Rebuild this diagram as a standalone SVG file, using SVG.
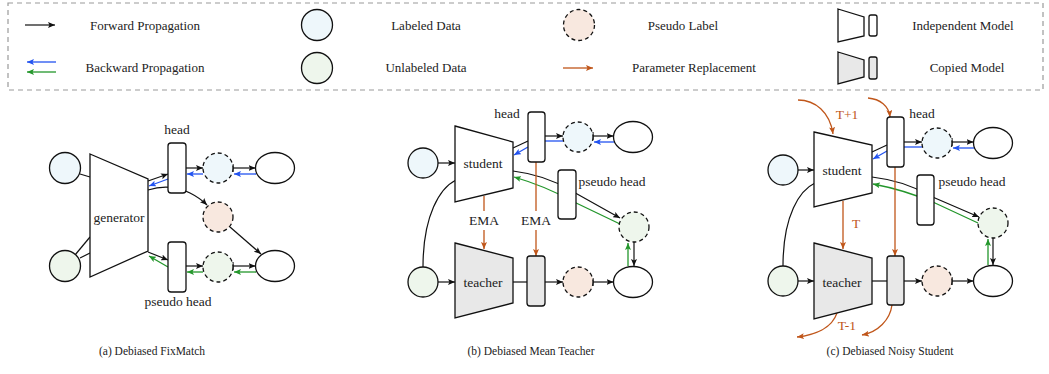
<svg xmlns="http://www.w3.org/2000/svg" width="1049" height="374" viewBox="0 0 1049 374">
<defs>
<marker id="aK" viewBox="0 0 7 6" refX="7" refY="3" markerWidth="7" markerHeight="6" markerUnits="userSpaceOnUse" orient="auto"><path d="M0,0 L7,3 L0,6 L1.5,3 z" fill="#111"/></marker>
<marker id="aB" viewBox="0 0 7 6" refX="7" refY="3" markerWidth="7" markerHeight="6" markerUnits="userSpaceOnUse" orient="auto"><path d="M0,0 L7,3 L0,6 L1.5,3 z" fill="#2253f0"/></marker>
<marker id="aG" viewBox="0 0 7 6" refX="7" refY="3" markerWidth="7" markerHeight="6" markerUnits="userSpaceOnUse" orient="auto"><path d="M0,0 L7,3 L0,6 L1.5,3 z" fill="#23962b"/></marker>
<marker id="aO" viewBox="0 0 7 6" refX="7" refY="3" markerWidth="7" markerHeight="6" markerUnits="userSpaceOnUse" orient="auto"><path d="M0,0 L7,3 L0,6 L1.5,3 z" fill="#c0561a"/></marker>
<marker id="tk" viewBox="0 0 2 8" refX="1" refY="4" markerWidth="2" markerHeight="8" markerUnits="userSpaceOnUse" orient="auto"><path d="M1,0 V8" stroke="#111" stroke-width="1.2"/></marker>
</defs>
<style>
text{font-family:"Liberation Serif","Times New Roman",serif;fill:#222;}
.lg{font-size:13px;text-anchor:middle;}
.lb{font-size:13.5px;text-anchor:middle;}
.cap{font-size:11.5px;text-anchor:middle;}
.ot{fill:#c0561a;}
.sh{stroke:#111;stroke-width:1.3;fill:#fff;}
.cp{fill:#e8e8e8;}
.lab{fill:#eef7fb;stroke:#111;stroke-width:1.3;}
.unl{fill:#eef6ec;stroke:#111;stroke-width:1.3;}
.dl{stroke-dasharray:4,3;}
.ps{fill:#f8e8df;stroke:#111;stroke-width:1.3;stroke-dasharray:4,3;}
.k{stroke:#111;stroke-width:1.2;fill:none;}
.b{stroke:#2253f0;stroke-width:1.3;fill:none;}
.g{stroke:#23962b;stroke-width:1.3;fill:none;}
.o{stroke:#c0561a;stroke-width:1.3;fill:none;}
.ka{marker-end:url(#aK);}
.ba{marker-end:url(#aB);}
.ga{marker-end:url(#aG);}
.oa{marker-end:url(#aO);}
.ts{marker-start:url(#tk);}
</style>

<g id="legend">
<rect x="8" y="3" width="1035" height="87" fill="none" stroke="#9a9a9a" stroke-width="1.2" stroke-dasharray="5,4"/>
<path class="k ka" d="M25,25 L55,25"/>
<text class="lg" x="145" y="30">Forward Propagation</text>
<path class="b ba" d="M56,62 L27,62"/>
<path class="g ga" d="M56,72 L27,72"/>
<text class="lg" x="145" y="72">Backward Propagation</text>
<circle class="lab" cx="317" cy="25" r="15.5"/>
<text class="lg" x="426" y="30">Labeled Data</text>
<circle class="unl" cx="317" cy="68" r="15.5"/>
<text class="lg" x="426" y="72">Unlabeled Data</text>
<circle class="ps" cx="579" cy="25" r="15.5"/>
<text class="lg" x="683" y="30">Pseudo Label</text>
<path class="o oa" d="M563,68 L593,68"/>
<text class="lg" x="694" y="72">Parameter Replacement</text>
<polygon class="sh" points="838,9 864,17 864,36 838,42"/>
<rect class="sh" x="869" y="15" width="8" height="21" rx="2"/>
<text class="lg" x="963" y="30">Independent Model</text>
<polygon class="sh cp" points="838,52 864,60 864,77 838,84"/>
<rect class="sh cp" x="869" y="57" width="8" height="22" rx="2"/>
<text class="lg" x="967" y="72">Copied Model</text>
</g>

<g id="connectors">
<!-- panel a -->
<path class="k" d="M80,174 L90,177"/>
<path class="k" d="M75,255 L90,237"/>
<path class="k" d="M80,258 L90,253"/>
<path class="k ka" d="M148,181 L168,174"/>
<path class="b ba" d="M168,179 L149,186"/>
<path class="k ka" d="M148,190 Q170,183 190,193 Q200,198 207,205"/>
<path class="k ka" d="M148,252 L168,260"/>
<path class="g ga" d="M168,267 L149,256"/>
<path class="k ka" d="M186,168 L203,168"/>
<path class="b ba" d="M203,174 L187,174"/>
<path class="k ka ts" d="M233,168 L255.5,168"/>
<path class="b ba" d="M256,174 L234,174"/>
<path class="k ka" d="M230,227 L261,254"/>
<path class="k ka" d="M186,266 L203,266"/>
<path class="g ga" d="M203,272 L187,272"/>
<path class="k ka ts" d="M233,266 L255.5,266"/>
<path class="g ga" d="M256,272 L234,272"/>
<!-- panel b -->
<path class="k ka" d="M438,163 L455,163"/>
<path class="k" d="M513,148 L528,141"/>
<path class="b ba" d="M528,147 L514,155"/>
<path class="k ka" d="M545,136 L563,136"/>
<path class="b" d="M563,141 L545,141"/>
<path class="k ka ts" d="M593,136 L613.5,136"/>
<path class="b ba" d="M614,142 L594,142"/>
<path class="k ka" d="M513,171 Q545,175 570,190 L620,218"/>
<path class="g ga" d="M620,224 L572,201 Q545,186 514,177"/>
<path class="k ka" d="M634,242 L634,266"/>
<path class="g ga" d="M628,266 L628,243"/>
<path class="k ka" d="M438,282 L455,282"/>
<path class="k" d="M423,267 C423,215 440,188 456,180"/>
<path class="k" d="M513,282 L527,282"/>
<path class="k ka" d="M545,282 L563,282"/>
<path class="k ka ts" d="M593,282 L613.5,282"/>
<path class="o oa" d="M484,196 V211 M484,230 V249"/>
<path class="o oa" d="M536,162 V211 M536,230 V256"/>
<!-- panel c -->
<path class="k ka" d="M798,170 L814,170"/>
<path class="k" d="M872,152 L887,145"/>
<path class="b ba" d="M887,151 L873,159"/>
<path class="k ka" d="M904,142 L922,142"/>
<path class="b" d="M922,147 L904,147"/>
<path class="k ka ts" d="M952,142 L973.5,142"/>
<path class="b ba" d="M974,148 L953,148"/>
<path class="k ka" d="M872,177 Q905,181 928,195 L979,217"/>
<path class="g ga" d="M978,223 L935,203 Q905,190 873,184"/>
<path class="k ka" d="M993,238 L993,265"/>
<path class="g ga" d="M988,265 L988,239"/>
<path class="k ka" d="M798,281 L814,281"/>
<path class="k" d="M783,266 C783,215 800,190 815,183"/>
<path class="k" d="M872,281 L887,281"/>
<path class="k ka" d="M904,281 L922,281"/>
<path class="k ka ts" d="M952,281 L973.5,281"/>
<path class="o oa" d="M798,100 C815,100 830,112 833,134"/>
<path class="o oa" d="M868,98 C880,99 889,106 890,117"/>
<path class="o oa" d="M843,201 L843,249"/>
<path class="o oa" d="M895,167 L895,256"/>
<path class="o oa" d="M837,313 C832,328 815,335 797,337"/>
<path class="o oa" d="M892,305 C890,320 878,332 862,335"/>
</g>

<g id="panel-a">
<g id="a-labeled"><circle class="lab" cx="65" cy="168" r="15.5"/></g>
<g id="a-unlabeled"><circle class="unl" cx="65" cy="266" r="15.5"/></g>
<g id="a-generator"><polygon class="sh" points="90,154 148,179 148,251 90,277"/><text class="lb" x="119" y="222">generator</text></g>
<g id="a-head"><rect class="sh" x="168" y="143" width="18" height="50" rx="3"/><text class="lb" x="177" y="134">head</text></g>
<g id="a-pseudo-head"><rect class="sh" x="168" y="242" width="18" height="50" rx="3"/><text class="lb" x="178" y="306">pseudo head</text></g>
<g id="a-pred-lab"><circle class="lab dl" cx="218" cy="168" r="15"/></g>
<g id="a-gt-lab"><ellipse class="sh" cx="275" cy="168" rx="19.5" ry="15.5"/></g>
<g id="a-pseudo"><circle class="ps" cx="218" cy="217" r="15"/></g>
<g id="a-pred-unl"><circle class="unl dl" cx="218" cy="267" r="15"/></g>
<g id="a-gt-unl"><ellipse class="sh" cx="275" cy="266" rx="19.5" ry="15.5"/></g>
<text class="cap" x="152" y="355">(a) Debiased FixMatch</text>
</g>

<g id="panel-b">
<g id="b-labeled"><circle class="lab" cx="423" cy="163" r="15"/></g>
<g id="b-student"><polygon class="sh" points="455,126 513,142 513,188 455,202"/><text class="lb" x="483" y="168">student</text></g>
<g id="b-head"><rect class="sh" x="528" y="112" width="17" height="50" rx="3"/><text class="lb" x="507" y="118">head</text></g>
<g id="b-pred-lab"><circle class="lab dl" cx="578" cy="137" r="15"/></g>
<g id="b-gt-lab"><ellipse class="sh" cx="633" cy="137" rx="19.5" ry="15.5"/></g>
<g id="b-pseudo-head"><rect class="sh" x="558" y="170" width="18" height="49" rx="3"/><text class="lb" x="612" y="186">pseudo head</text></g>
<g id="b-pred-unl"><circle class="unl dl" cx="634" cy="227" r="15"/></g>
<g id="b-unlabeled"><circle class="unl" cx="423" cy="282" r="15"/></g>
<g id="b-teacher"><polygon class="sh cp" points="455,243 513,258 513,303 455,318"/><text class="lb" x="483" y="287">teacher</text></g>
<g id="b-teacher-head"><rect class="sh cp" x="527" y="256" width="18" height="50" rx="3"/></g>
<g id="b-pseudo"><circle class="ps" cx="578" cy="282" r="15"/></g>
<g id="b-gt-unl"><ellipse class="sh" cx="633" cy="282" rx="19.5" ry="15.5"/></g>
<text class="lb" x="484" y="225">EMA</text>
<text class="lb" x="536" y="225">EMA</text>
<text class="cap" x="531" y="355">(b) Debiased Mean Teacher</text>
</g>

<g id="panel-c">
<g id="c-labeled"><circle class="lab" cx="783" cy="170" r="15"/></g>
<g id="c-student"><polygon class="sh" points="814,132 872,145 872,193 814,207"/><text class="lb" x="842" y="175">student</text></g>
<g id="c-head"><rect class="sh" x="887" y="117" width="17" height="50" rx="3"/><text class="lb" x="922" y="118">head</text></g>
<g id="c-pred-lab"><circle class="lab dl" cx="937" cy="143" r="15"/></g>
<g id="c-gt-lab"><ellipse class="sh" cx="993" cy="143" rx="19.5" ry="15.5"/></g>
<g id="c-pseudo-head"><rect class="sh" x="917" y="175" width="17" height="50" rx="3"/><text class="lb" x="972" y="186">pseudo head</text></g>
<g id="c-pred-unl"><circle class="unl dl" cx="993" cy="223" r="15"/></g>
<g id="c-unlabeled"><circle class="unl" cx="783" cy="281" r="15"/></g>
<g id="c-teacher"><polygon class="sh cp" points="814,243 872,258 872,304 814,319"/><text class="lb" x="842" y="287">teacher</text></g>
<g id="c-teacher-head"><rect class="sh cp" x="887" y="256" width="17" height="49" rx="3"/></g>
<g id="c-pseudo"><circle class="ps" cx="937" cy="281" r="15"/></g>
<g id="c-gt-unl"><ellipse class="sh" cx="993" cy="281" rx="19.5" ry="15.5"/></g>
<text class="lb ot" x="847" y="119">T+1</text>
<text class="lb ot" x="856" y="228">T</text>
<text class="lb ot" x="847" y="330">T-1</text>
<text class="cap" x="890" y="355">(c) Debiased Noisy Student</text>
</g>
</svg>
